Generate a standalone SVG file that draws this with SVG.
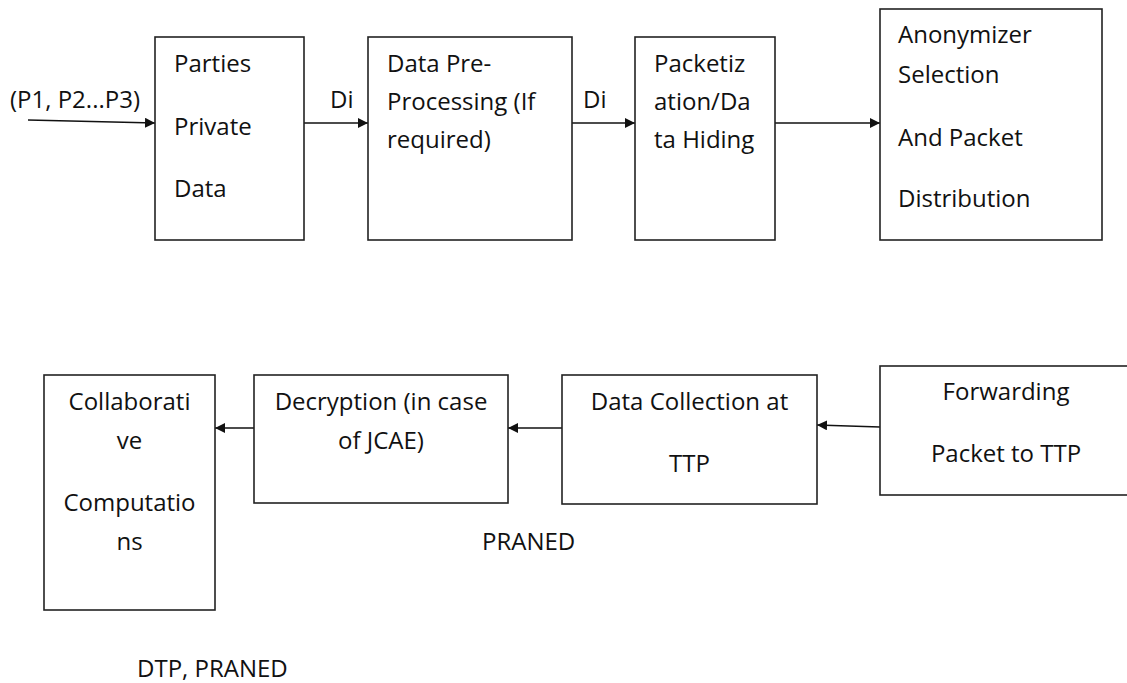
<svg xmlns="http://www.w3.org/2000/svg" width="1127" height="683" viewBox="0 0 1127 683">
<style>
.box{fill:#fff;stroke:#222;stroke-width:1.6}
.t{font-family:"Open Sans","Liberation Sans",sans-serif;font-size:24px;fill:#111}
.c{text-anchor:middle}
.ln{stroke:#111;stroke-width:1.5;fill:none;marker-end:url(#ah)}
</style>
<defs>
<marker id="ah" viewBox="0 0 10 10" refX="10" refY="5" markerWidth="10" markerHeight="10" markerUnits="userSpaceOnUse" orient="auto">
<path d="M0,0 L10,5 L0,10 z" fill="#111"/>
</marker>
</defs>
<rect width="1127" height="683" fill="#fff"/>
<g id="connectors">
<path class="ln" d="M28,120 L155,123"/>
<path class="ln" d="M304,123 L368,123"/>
<path class="ln" d="M572,123 L635,123"/>
<path class="ln" d="M775,123 L880,123"/>
<path class="ln" d="M880,427 L817,425"/>
<path class="ln" d="M562,428 L508,428"/>
<path class="ln" d="M254,428 L215,428"/>
<text class="t" x="10" y="108">(P1, P2...P3)</text>
<text class="t" x="330" y="108">Di</text>
<text class="t" x="583" y="108">Di</text>
</g>
<g id="n1">
<rect class="box" x="155" y="37" width="149" height="203"/>
<text class="t" x="174" y="72">Parties</text>
<text class="t" x="174" y="135">Private</text>
<text class="t" x="174" y="197">Data</text>
</g>
<g id="n2">
<rect class="box" x="368" y="37" width="204" height="203"/>
<text class="t" x="387" y="72">Data Pre-</text>
<text class="t" x="387" y="110">Processing (If</text>
<text class="t" x="387" y="148">required)</text>
</g>
<g id="n3">
<rect class="box" x="635" y="37" width="140" height="203"/>
<text class="t" x="654" y="72">Packetiz</text>
<text class="t" x="654" y="110">ation/Da</text>
<text class="t" x="654" y="148">ta Hiding</text>
</g>
<g id="n4">
<rect class="box" x="880" y="9" width="222" height="231"/>
<text class="t" x="898" y="43">Anonymizer</text>
<text class="t" x="898" y="83">Selection</text>
<text class="t" x="898" y="146">And Packet</text>
<text class="t" x="898" y="207">Distribution</text>
</g>
<g id="n5">
<rect class="box" x="44" y="375" width="171" height="235"/>
<text class="t c" x="129.5" y="410">Collaborati</text>
<text class="t c" x="129.5" y="449">ve</text>
<text class="t c" x="129.5" y="511">Computatio</text>
<text class="t c" x="129.5" y="550">ns</text>
</g>
<g id="n6">
<rect class="box" x="254" y="375" width="254" height="128"/>
<text class="t c" x="381" y="410">Decryption (in case</text>
<text class="t c" x="381" y="449">of JCAE)</text>
</g>
<g id="n7">
<rect class="box" x="562" y="375" width="255" height="129"/>
<text class="t c" x="689.5" y="410">Data Collection at</text>
<text class="t c" x="689.5" y="472">TTP</text>
</g>
<g id="n8">
<rect class="box" x="880" y="366" width="252" height="129"/>
<text class="t c" x="1006" y="400">Forwarding</text>
<text class="t c" x="1006" y="462">Packet to TTP</text>
</g>
<g id="labels">
<text class="t" x="482" y="550">PRANED</text>
<text class="t" x="137" y="677">DTP, PRANED</text>
</g>
</svg>
